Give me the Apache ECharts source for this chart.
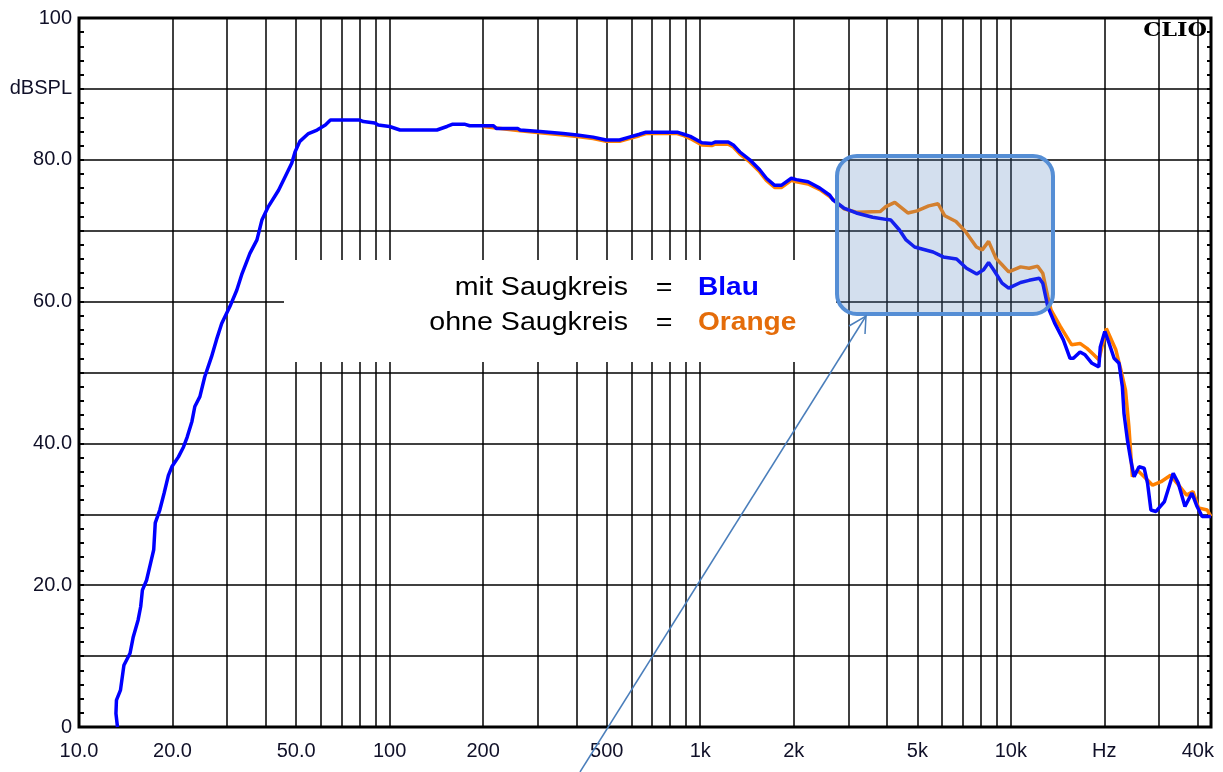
<!DOCTYPE html>
<html>
<head>
<meta charset="utf-8">
<script src="https://cdn.jsdelivr.net/npm/echarts@6/dist/echarts.min.js"></script>
<style>
html, body { margin: 0; padding: 0; background: #fff; }
#chart { width: 1223px; height: 772px; }
</style>
</head>
<body>
<div id="chart"></div>
<script>
// Frequenzgang mit / ohne Saugkreis (CLIO Messung)
var blueFreq = [13.3, 13.15, 13.2, 13.6, 13.95, 14.6, 14.95, 15.5, 15.8, 16.0, 16.5, 17.0, 17.4, 17.6, 18.2, 18.8, 19.4, 19.9,
  20.9, 21.7, 22.3, 23.1, 23.6, 24.5, 25.4, 26.7, 27.7, 28.8, 30.6, 32.2, 33.4, 35.5, 37.4, 38.8, 40.7, 43.9, 46.1, 48.4,
  49.6, 51.4, 54.8, 58.4, 62.1, 64.5, 80.2, 82.3, 89.6, 91.9, 100, 108, 142, 153, 159, 175, 181, 216, 221, 259, 263, 305,
  362, 401, 452, 498, 550, 591, 637, 669, 843, 885, 929, 1012, 1089, 1116, 1231, 1278, 1342, 1444, 1554, 1633, 1736, 1824,
  1965, 2039, 2224, 2427, 2613, 2680, 2900, 3180, 3590, 3960, 4110, 4380, 4600, 4900, 5620, 6060, 6690, 7200, 7770, 8170,
  8480, 8800, 9370, 9840, 10750, 11450, 12350, 12670, 13150, 13830, 14760, 15510, 15900, 16700, 17340, 18250, 19200, 19410,
  20070, 20730, 21500, 22300, 22860, 23140, 23730, 24320, 24930, 25870, 26870, 27550, 28250, 29340, 31230, 33320, 34590,
  36360, 38290, 39780, 41290, 44050];
var blueDb = [0, 1.9, 3.8, 5.2, 8.7, 10.4, 12.7, 15.1, 17.0, 19.3, 20.7, 23.1, 25.0, 28.8, 30.6, 33.0, 35.5, 36.7,
  38.1, 39.5, 40.9, 43.1, 45.2, 46.6, 49.4, 52.2, 54.6, 56.9, 59.3, 61.6, 63.8, 66.8, 68.7, 71.5, 73.4, 75.7, 77.6, 79.5,
  81.1, 82.6, 83.7, 84.2, 84.9, 85.6, 85.6, 85.4, 85.2, 84.9, 84.7, 84.2, 84.2, 84.7, 85.0, 85.0, 84.8, 84.8, 84.4, 84.4, 84.2, 84.0,
  83.7, 83.5, 83.2, 82.8, 82.8, 83.2, 83.6, 83.9, 83.9, 83.6, 83.3, 82.4, 82.3, 82.5, 82.5, 82.1, 81.1, 80.0, 78.6, 77.4, 76.4, 76.4,
  77.4, 77.2, 76.9, 76.0, 75.0, 74.3, 73.2, 72.5, 71.9, 71.6, 71.5, 70.1, 68.7, 67.7, 67.0, 66.3, 66.0, 64.7, 63.9, 64.5,
  65.5, 64.5, 62.6, 61.9, 62.7, 63.0, 63.3, 62.6, 59.3, 57.0, 54.6, 52.0, 52.0, 52.9, 52.5, 51.3, 50.8, 53.6,
  55.8, 54.1, 52.0, 51.3, 48.0, 44.2, 40.5, 37.7, 35.3, 36.7, 36.5, 34.4, 30.6, 30.4, 31.8, 35.8, 34.4,
  31.1, 33.0, 31.1, 29.7, 29.7];

var orangeFreq = [200, 263, 305, 362, 401, 452, 498, 550, 591, 637, 669, 843, 885, 929, 1012, 1089, 1116, 1231, 1278, 1342,
  1444, 1554, 1633, 1736, 1824, 1965, 2039, 2224, 2427, 2613, 2900, 3180, 3800, 3960, 4230, 4660, 4990, 5440, 5830, 6130,
  6660, 7140, 7750, 8090, 8480, 8960, 9370, 9840, 10750, 11450, 12200, 12670, 13150, 13480, 14430, 15700, 16700, 17590,
  18500, 19200, 20300, 21780, 22600, 23400, 23990, 24620, 25560, 26870, 28600, 30460, 32680, 35000, 36800, 38600, 40180,
  42900, 44050];
var orangeDb = [84.7, 84.1, 83.8, 83.5, 83.3, 83.0, 82.6, 82.6, 83.0, 83.4, 83.7, 83.7, 83.4, 83.0, 82.1, 82.0, 82.2, 82.2, 81.8, 80.8,
  79.7, 78.3, 77.1, 76.1, 76.1, 77.1, 76.9, 76.6, 75.8, 74.8, 73.1, 72.6, 72.7, 73.4, 74.0, 72.5, 72.8, 73.5, 73.8, 72.1,
  71.3, 69.9, 67.7, 67.3, 68.5, 66.1, 65.2, 64.2, 64.9, 64.7, 65.0, 64.0, 60.7, 58.8, 56.5, 53.9, 54.1, 53.4,
  52.5, 51.8, 56.2, 53.2, 50.4, 47.5, 42.4, 35.3, 36.2, 35.3, 34.1, 34.6, 35.5, 33.9, 32.7, 33.2, 30.9,
  30.6, 29.7];

var xLabelValues = [10, 20, 50, 100, 200, 500, 1000, 2000, 5000, 10000, 20000, 40000];
var xLabelTexts = ['10.0', '20.0', '50.0', '100', '200', '500', '1k', '2k', '5k', '10k', 'Hz', '40k'];
var yLabels = { 100: '100', 90: 'dBSPL', 80: '80.0', 60: '60.0', 40: '40.0', 20: '20.0', 0: '0' };

// Rasterlinien 1..9 pro Dekade
var gridFreqs = [];
[10, 100, 1000, 10000].forEach(function (dec) {
  for (var i = 1; i < 10; i++) {
    if (dec * i <= 44000) gridFreqs.push(dec * i);
  }
});

function pairs(xs, ys) {
  return xs.map(function (x, i) { return [x, ys[i]]; });
}

var chart = echarts.init(document.getElementById('chart'));
var labelFont = 'Liberation Sans, Arial, sans-serif';
var boxFont = '26px "Liberation Sans", Arial';
var boxFontBold = 'bold 26px "Liberation Sans", Arial';

var option = {
  animation: false,
  backgroundColor: '#fff',
  grid: {
    left: 79, top: 18, right: 12, bottom: 45,
    show: true, borderColor: '#000', borderWidth: 3, backgroundColor: 'transparent'
  },
  xAxis: {
    type: 'log',
    logBase: 10,
    min: 10,
    max: 44100,
    axisLine: { show: false },
    axisTick: { show: false, customValues: gridFreqs },
    splitLine: { show: true, lineStyle: { color: '#000', width: 1.5 } },
    axisLabel: {
      customValues: xLabelValues,
      margin: 14,
      fontSize: 20,
      fontFamily: labelFont,
      color: '#101028',
      formatter: function (v) {
        var i = xLabelValues.indexOf(Math.round(v));
        return i >= 0 ? xLabelTexts[i] : '';
      }
    }
  },
  yAxis: [{
    type: 'value',
    min: 0, max: 100, interval: 10,
    axisLine: { show: false },
    axisTick: { show: true, inside: true, length: 5, lineStyle: { color: '#000', width: 2 } },
    minorTick: { show: true, splitNumber: 5, length: 5, lineStyle: { color: '#000', width: 2 } },
    splitLine: { show: true, lineStyle: { color: '#000', width: 1.5 } },
    axisLabel: {
      margin: 7,
      fontSize: 20,
      fontFamily: labelFont,
      color: '#101028',
      formatter: function (v) { return yLabels[v] !== undefined ? yLabels[v] : ''; }
    }
  }, {
    type: 'value',
    position: 'right',
    min: 0, max: 100, interval: 10,
    axisLine: { show: false },
    axisTick: { show: true, inside: true, length: 4, lineStyle: { color: '#000', width: 2 } },
    minorTick: { show: true, splitNumber: 5, length: 4, lineStyle: { color: '#000', width: 2 } },
    splitLine: { show: false },
    axisLabel: { show: false }
  }],
  series: [{
    name: 'ohne Saugkreis',
    type: 'line',
    data: pairs(orangeFreq, orangeDb),
    showSymbol: false,
    symbol: 'none',
    clip: true,
    lineStyle: { color: '#ff8000', width: 3.5 },
    z: 3
  }, {
    name: 'mit Saugkreis',
    type: 'line',
    data: pairs(blueFreq, blueDb),
    showSymbol: false,
    symbol: 'none',
    clip: true,
    lineStyle: { color: '#0000ff', width: 3.5 },
    z: 4
  }],
  graphic: [
    { type: 'rect', z: 5, shape: { x: 284, y: 260, width: 552, height: 102 }, style: { fill: '#fff' } },
    { type: 'text', z: 6, x: 628, y: 288, scaleX: 1.1,
      style: { text: 'mit Saugkreis', align: 'right', verticalAlign: 'middle', font: boxFont, fill: '#000' } },
    { type: 'text', z: 6, x: 628, y: 323, scaleX: 1.1,
      style: { text: 'ohne Saugkreis', align: 'right', verticalAlign: 'middle', font: boxFont, fill: '#000' } },
    { type: 'text', z: 6, x: 664, y: 288, scaleX: 1.1,
      style: { text: '=', align: 'center', verticalAlign: 'middle', font: boxFont, fill: '#000' } },
    { type: 'text', z: 6, x: 664, y: 323, scaleX: 1.1,
      style: { text: '=', align: 'center', verticalAlign: 'middle', font: boxFont, fill: '#000' } },
    { type: 'text', z: 6, x: 698, y: 288, scaleX: 1.08,
      style: { text: 'Blau', align: 'left', verticalAlign: 'middle', font: boxFontBold, fill: '#0000ff' } },
    { type: 'text', z: 6, x: 698, y: 323, scaleX: 1.08,
      style: { text: 'Orange', align: 'left', verticalAlign: 'middle', font: boxFontBold, fill: '#e46c0a' } },
    { type: 'rect', z: 10, shape: { x: 837, y: 156, width: 216, height: 158, r: 20 },
      style: { fill: 'rgba(79,129,189,0.25)', stroke: '#558ed5', lineWidth: 4 } },
    { type: 'polyline', z: 10, shape: { points: [[580, 772], [866, 316]] },
      style: { stroke: '#4a7ebb', lineWidth: 1.5, fill: null } },
    { type: 'polyline', z: 10, shape: { points: [[849, 326], [866, 316], [865, 334]] },
      style: { stroke: '#4a7ebb', lineWidth: 1.5, fill: null } },
    { type: 'text', z: 10, x: 1207, y: 31, scaleX: 1.18,
      style: { text: 'CLIO', align: 'right', verticalAlign: 'middle', font: 'bold 19px "DejaVu Serif", serif', fill: '#000' } }
  ]
};
chart.setOption(option);
</script>
</body>
</html>
